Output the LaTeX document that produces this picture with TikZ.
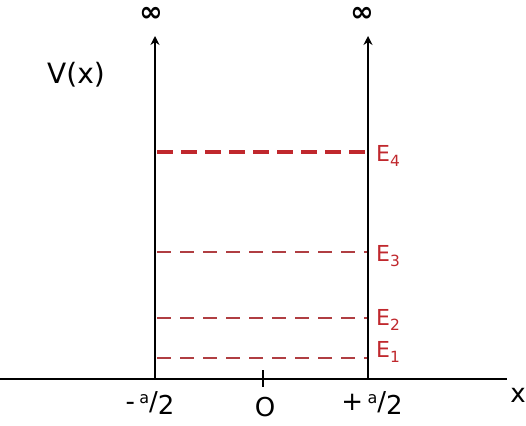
\documentclass[tikz,border=0pt]{standalone}
\usepackage{fontspec}
\setmainfont{DejaVu Sans}
\usetikzlibrary{arrows.meta}
\definecolor{lvl}{HTML}{C0282D}
\tikzset{
  wall/.style={line width=2.6pt,-{Stealth[length=9pt,width=9pt]}},
  axis/.style={line width=1.8pt},
  lvlline/.style={draw=lvl!75!gray,line width=1.5pt,dash pattern=on 14pt off 9pt},
  lvlthick/.style={draw=lvl,line width=3.2pt,dash pattern=on 16pt off 8pt},
  elab/.style={text=lvl,font=\fontsize{22}{22}\selectfont,anchor=west,inner sep=1pt},
  lab/.style={font=\fontsize{26}{26}\selectfont,inner sep=1pt},
  inf/.style={font=\fontsize{28}{28}\selectfont\bfseries,inner sep=1pt}
}
\begin{document}
\begin{tikzpicture}[x=1pt,y=-1pt]
\useasboundingbox (0,0) rectangle (526,425);
\fill[white] (0,0) rectangle (526,425);
% axis
\coordinate (ax0) at (0,379);
\coordinate (ax1) at (507,379);
\draw[axis] (ax0) -- (ax1);
\node[lab] (xl) at (518,395) {x};
% walls
\coordinate (lw0) at (155,379);
\coordinate (lw1) at (155,36);
\coordinate (rw0) at (368,379);
\coordinate (rw1) at (368,36);
\draw[wall] (lw0) -- (lw1);
\draw[wall] (rw0) -- (rw1);
\node[inf] (infl) at (151,14) {∞};
\node[inf] (infr) at (362,14) {∞};
\node[font=\fontsize{28}{28}\selectfont,inner sep=1pt] (vx) at (76,75) {V(x)};
% tick at 0
\coordinate (t0) at (263,370);
\coordinate (t1) at (263,387);
\draw[line width=1.6pt] (t0) -- (t1);
\node[lab] (ml) at (150,403) {-\,\raisebox{7pt}{\fontsize{16}{16}\selectfont a}/\raisebox{-4pt}{2}};
\node[lab] (zl) at (265,407) {O};
\node[lab] (pl) at (372,403) {+\,\raisebox{7pt}{\fontsize{16}{16}\selectfont a}/\raisebox{-4pt}{2}};
% energy levels
\coordinate (a4) at (157,152); \coordinate (b4) at (367,152);
\coordinate (a3) at (157,252); \coordinate (b3) at (367,252);
\coordinate (a2) at (157,318); \coordinate (b2) at (367,318);
\coordinate (a1) at (157,358); \coordinate (b1) at (367,358);
\draw[lvlthick] (a4) -- (b4);
\draw[lvlline] (a3) -- (b3);
\draw[lvlline] (a2) -- (b2);
\draw[lvlline] (a1) -- (b1);
\node[elab] (e4) at (375,156) {E\textsubscript{4}};
\node[elab] (e3) at (375,256) {E\textsubscript{3}};
\node[elab] (e2) at (375,320) {E\textsubscript{2}};
\node[elab] (e1) at (375,352) {E\textsubscript{1}};
\end{tikzpicture}
\end{document}
